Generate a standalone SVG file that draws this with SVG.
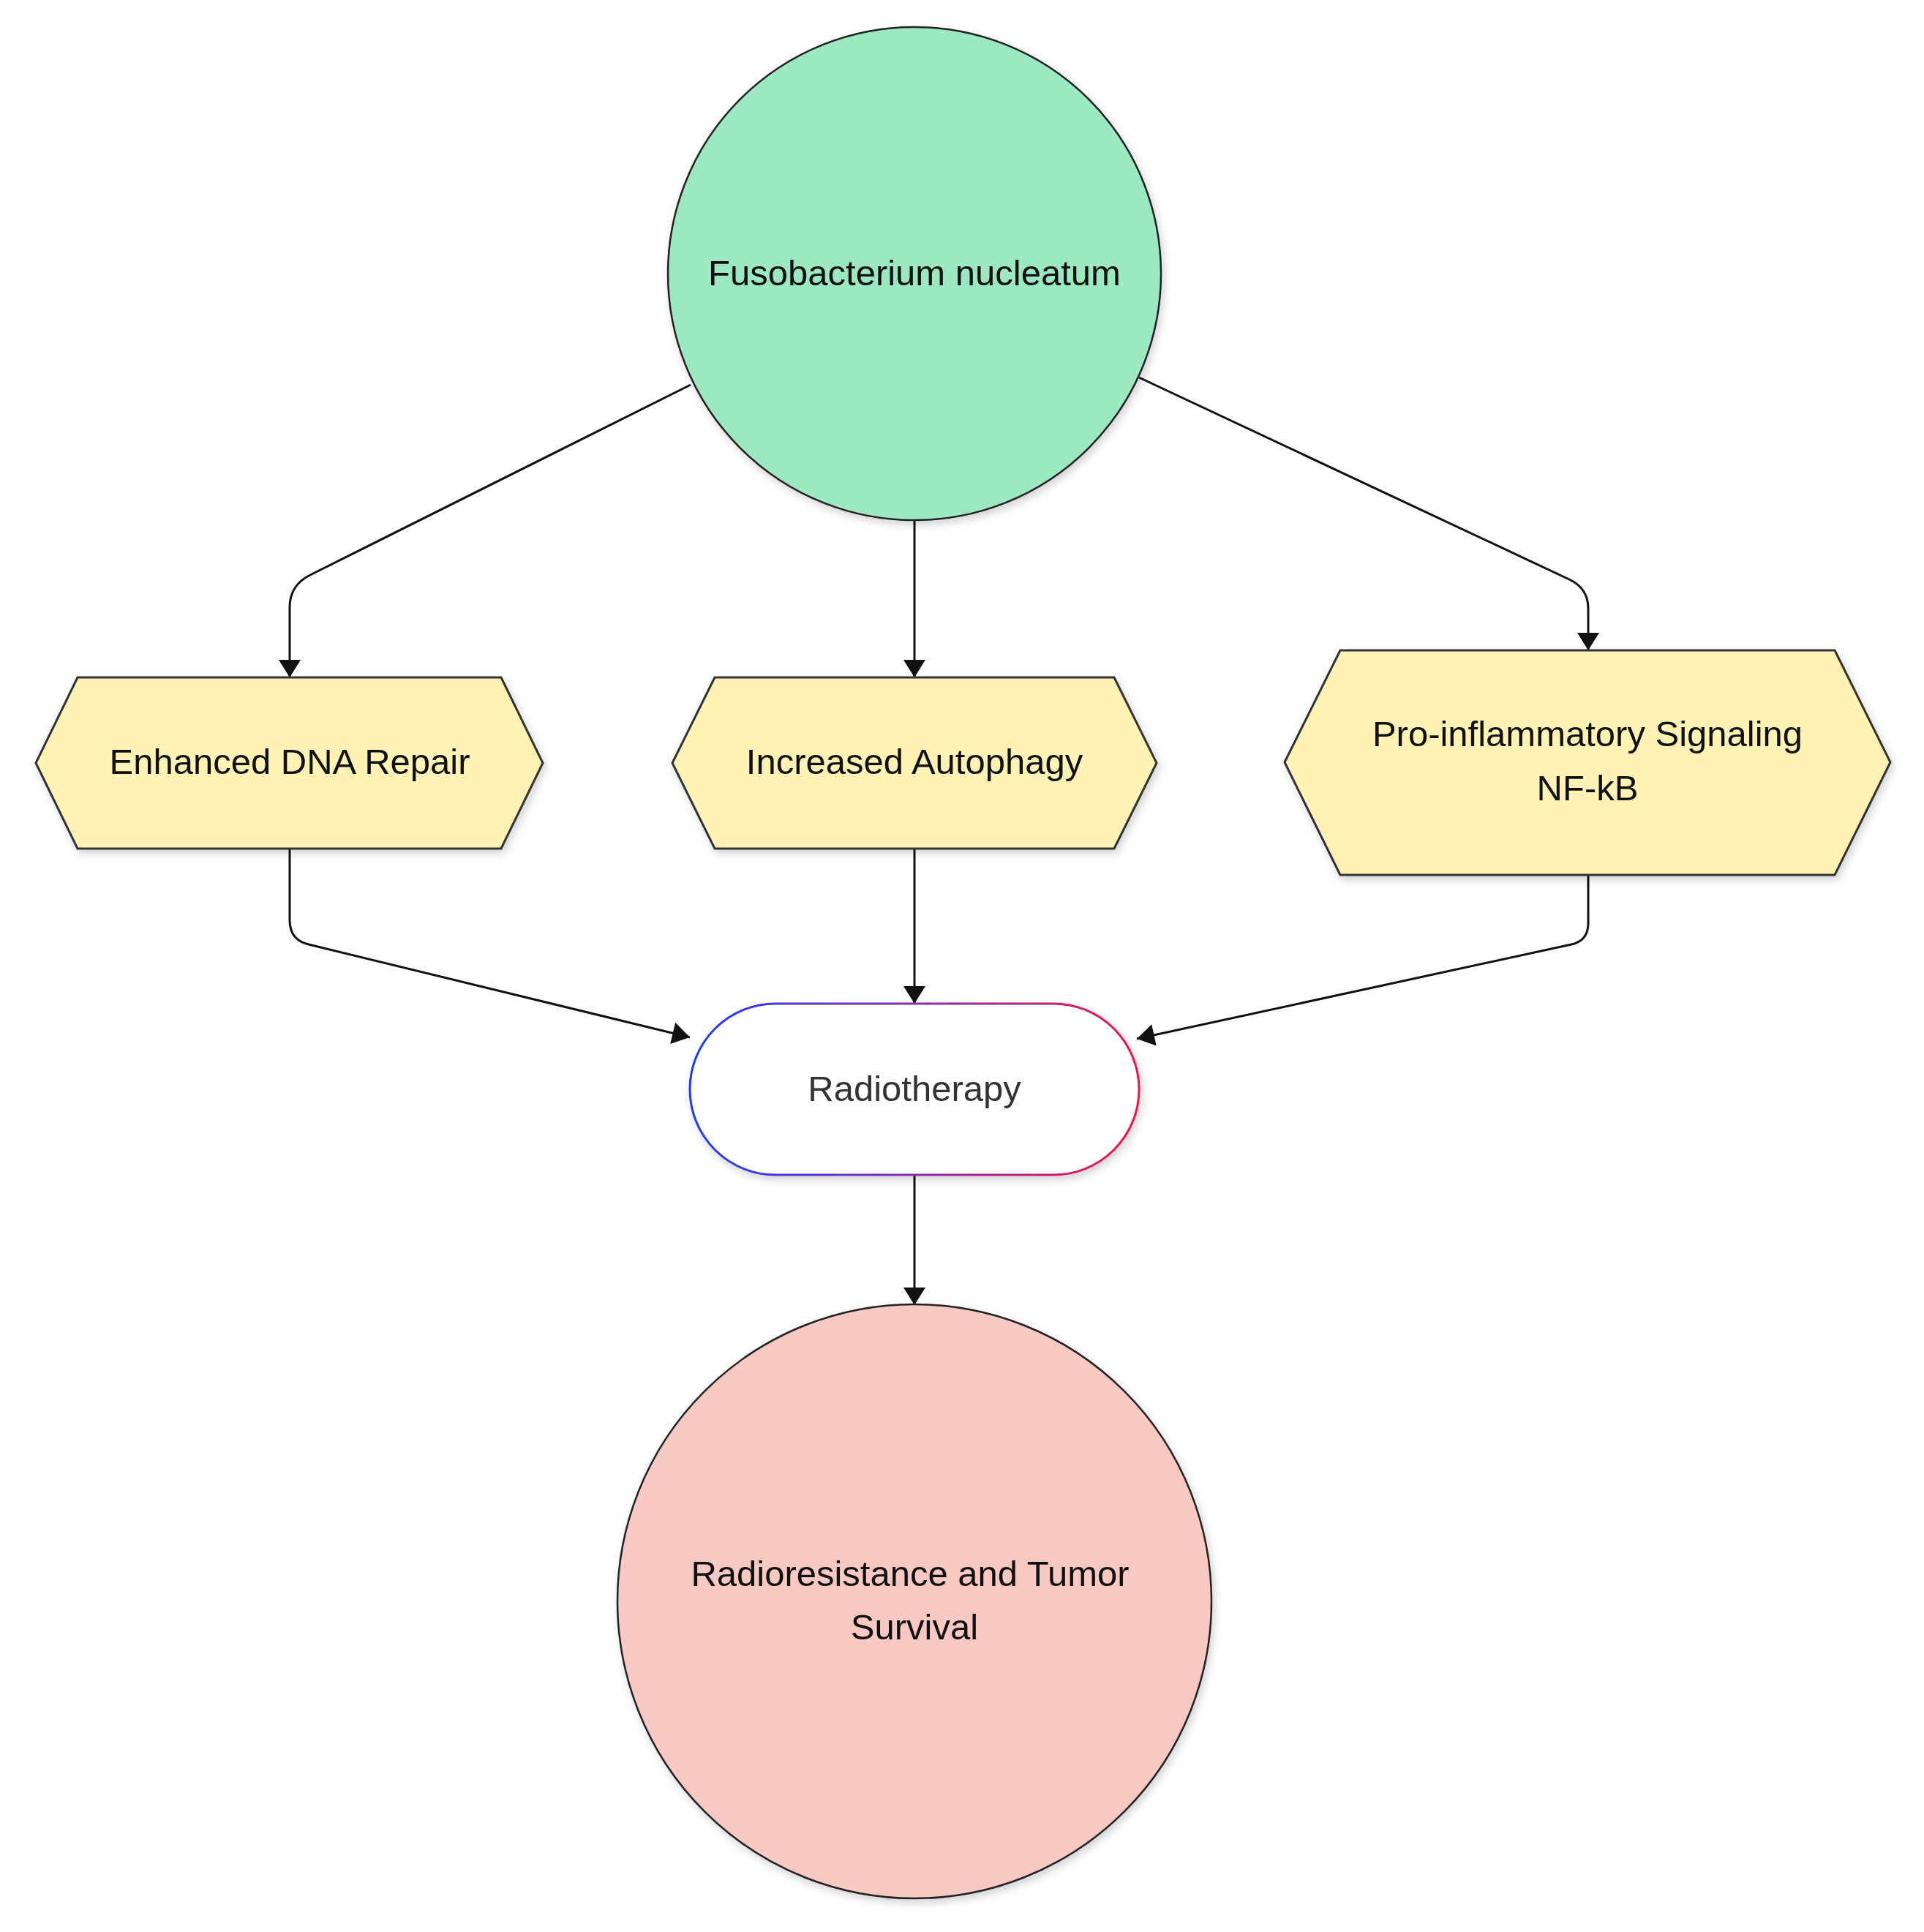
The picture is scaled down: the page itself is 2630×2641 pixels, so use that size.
<svg xmlns="http://www.w3.org/2000/svg" width="2630" height="2641" viewBox="0 0 2630 2641">
<style>
  .lbl { font-family: "Liberation Sans", Arial, sans-serif; font-size: 49px; fill: #111; text-anchor: middle; }
  .hex { fill: #FFF2B5; stroke: #333; stroke-width: 3; stroke-linejoin: miter; }
  .circ { stroke: #222; stroke-width: 2.5; }
  .edge { fill: none; stroke: #111; stroke-width: 3; }
</style>
<defs>
  <marker id="arrow" markerUnits="userSpaceOnUse" markerWidth="30" markerHeight="30" viewBox="0 0 24 30" refX="24" refY="15" orient="auto">
    <path d="M0,0 L24,15 L0,30 Z" fill="#111"/>
  </marker>
  <linearGradient id="rtGrad" x1="0" y1="0" x2="1" y2="0">
    <stop offset="0" stop-color="#1E3CF5"/>
    <stop offset="0.5" stop-color="#8A2CB0"/>
    <stop offset="1" stop-color="#EC1448"/>
  </linearGradient>
  <filter id="shadow" x="-10%" y="-10%" width="120%" height="130%">
    <feDropShadow dx="3" dy="5" stdDeviation="6" flood-color="#000" flood-opacity="0.18"/>
  </filter>
</defs>

<g id="connectors">
  <path class="edge" d="M944,526 L424,786 Q396,800 396,830 L396,926" marker-end="url(#arrow)"/>
  <path class="edge" d="M1250,712 L1250,926" marker-end="url(#arrow)"/>
  <path class="edge" d="M1557,516 L2145,792 Q2171,804 2171,832 L2171,889" marker-end="url(#arrow)"/>
  <path class="edge" d="M396,1160 L396,1258 Q396,1285 422,1291 L943,1418" marker-end="url(#arrow)"/>
  <path class="edge" d="M1250,1160 L1250,1372" marker-end="url(#arrow)"/>
  <path class="edge" d="M2171,1196 L2171,1262 Q2171,1286 2148,1291 L1554,1420" marker-end="url(#arrow)"/>
  <path class="edge" d="M1250,1606 L1250,1784" marker-end="url(#arrow)"/>
</g>

<g id="node-fuso">
  <circle class="circ" cx="1250" cy="374" r="337" fill="#9BE8C1" filter="url(#shadow)"/>
  <text class="lbl" x="1250" y="390">Fusobacterium nucleatum</text>
</g>

<g id="node-dna">
  <polygon class="hex" points="49,1043 106,926 685,926 742,1043 685,1160 106,1160" filter="url(#shadow)"/>
  <text class="lbl" x="396" y="1058">Enhanced DNA Repair</text>
</g>

<g id="node-autophagy">
  <polygon class="hex" points="919,1043 977,926 1523,926 1581,1043 1523,1160 977,1160" filter="url(#shadow)"/>
  <text class="lbl" x="1250" y="1058">Increased Autophagy</text>
</g>

<g id="node-nfkb">
  <polygon class="hex" points="1756,1042 1832,889 2508,889 2584,1042 2508,1196 1832,1196" filter="url(#shadow)"/>
  <text class="lbl" x="2170" y="1020">Pro-inflammatory Signaling</text>
  <text class="lbl" x="2170" y="1094">NF-kB</text>
</g>

<g id="node-radiotherapy">
  <rect x="943" y="1372" width="614" height="234" rx="117" ry="117" fill="#fff" stroke="url(#rtGrad)" stroke-width="3" filter="url(#shadow)"/>
  <text class="lbl" x="1250" y="1505" style="fill:#333">Radiotherapy</text>
</g>

<g id="node-survival">
  <circle class="circ" cx="1250" cy="2189" r="406" fill="#F8C8C3" filter="url(#shadow)"/>
  <text class="lbl" x="1244" y="2168">Radioresistance and Tumor</text>
  <text class="lbl" x="1250" y="2241">Survival</text>
</g>
</svg>
